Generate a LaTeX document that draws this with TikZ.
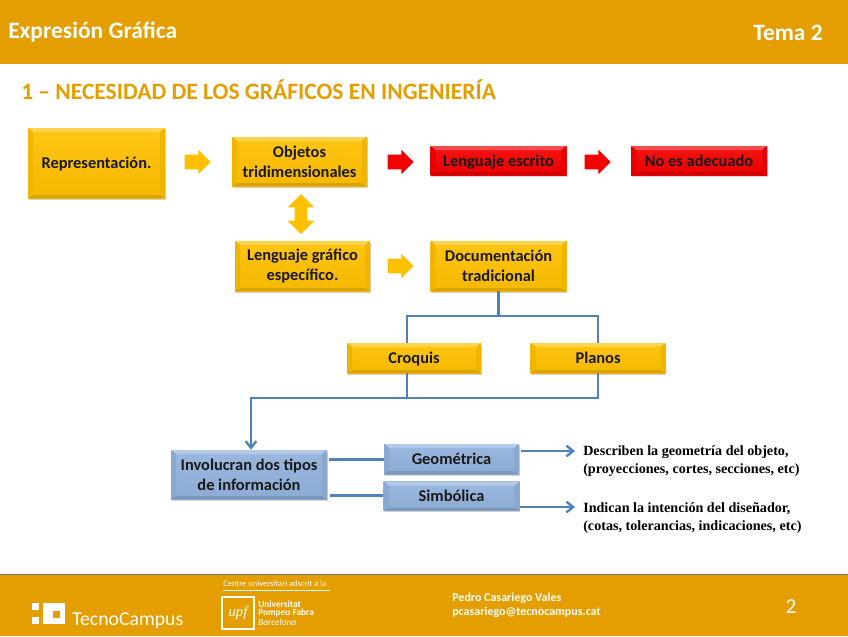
\documentclass[tikz,border=0pt]{standalone}
\usepackage{fontspec}
\usepackage{xcolor}
\setmainfont{Carlito}
\newfontfamily\serifbold{Liberation Serif}[BoldFont={Liberation Serif Bold}]
\usetikzlibrary{arrows.meta,positioning,shapes.arrows,shadows}
\definecolor{bandorange}{RGB}{228,158,0}
\definecolor{boxyellow}{RGB}{255,192,0}
\definecolor{boxred}{RGB}{245,0,0}
\definecolor{boxblue}{RGB}{146,178,220}
\definecolor{linkblue}{RGB}{79,129,189}
\tikzset{
  bevel/.style={rectangle,inner sep=0pt,align=center,font=\bfseries\fontsize{12.3}{15}\selectfont,text=black!90,
    top color=#1!92!white,bottom color=#1!96!black,drop shadow={opacity=0.35,shadow xshift=0.4pt,shadow yshift=-1.3pt},
    path picture={
      \fill[#1!70!white] (path picture bounding box.north west) -- (path picture bounding box.north east)
        -- ++(-3.75pt,-3pt) -- ([shift={(3.75pt,-3pt)}]path picture bounding box.north west) -- cycle;
      \fill[#1!85!black] (path picture bounding box.south west) -- (path picture bounding box.south east)
        -- ++(-3.75pt,2.25pt) -- ([shift={(3.75pt,2.25pt)}]path picture bounding box.south west) -- cycle;
      \fill[#1!94!black] (path picture bounding box.north west) -- ++(3.75pt,-3pt)
        -- ([shift={(3.75pt,2.25pt)}]path picture bounding box.south west) -- (path picture bounding box.south west) -- cycle;
      \fill[#1!94!black] (path picture bounding box.north east) -- ++(-3.75pt,-3pt)
        -- ([shift={(-3.75pt,2.25pt)}]path picture bounding box.south east) -- (path picture bounding box.south east) -- cycle;
    }},
  yellowbox/.style={bevel=boxyellow},
  redbox/.style={bevel=boxred},
  bluebox/.style={bevel=boxblue},
  oneline/.style={text height=11pt,text depth=2.5pt},
  blockarrow/.style={single arrow,fill=#1,inner xsep=0pt,inner ysep=5.25pt,minimum width=18pt,minimum height=19.5pt,
    single arrow head extend=3.75pt,single arrow head indent=0pt},
  link/.style={draw=linkblue,line width=1.8pt},
  linkarrow/.style={link,-{Straight Barb[length=5pt,width=8pt,line width=1.8pt]}},
  note/.style={anchor=west,inner sep=0pt,font=\serifbold\bfseries\fontsize{10.6}{10.6}\selectfont},
  bandtext/.style={inner sep=0pt,text=white,font=\bfseries\fontsize{17.6}{17.6}\selectfont},
  smalltext/.style={inner sep=0pt,anchor=west,text=white,font=\bfseries\fontsize{9}{9}\selectfont},
  logotext/.style={inner sep=0pt,anchor=west,text=white,font=\bfseries\fontsize{7}{7}\selectfont}
}
\begin{document}
\begin{tikzpicture}[x=0.75pt,y=-0.75pt]
\useasboundingbox (0,0) rectangle (848,636);
\fill[white] (0,0) rectangle (848,636);
% bands
\fill[bandorange] (0,0) rectangle (848,64);
\fill[bandorange] (0,575) rectangle (848,636);
\draw[black!55,line width=1pt] (0,574.5) -- (848,574.5);
\node[bandtext,anchor=west] (subject) at (8,32) {Expresión Gráfica};
\node[bandtext,anchor=east] (unit) at (823,33) {Tema 2};
\node[anchor=west,inner sep=0pt,text=bandorange,font=\bfseries\fontsize{17.6}{17.6}\selectfont] (title) at (21,90) {1 – NECESIDAD DE LOS GRÁFICOS EN INGENIERÍA};
% top row
\node[yellowbox,oneline,minimum width=102.75pt,minimum height=52.5pt] (repres) at (96.5,163) {Representación.};
\node[yellowbox,minimum width=101.25pt,minimum height=36.75pt] (objetos) at (299.5,161.5) {Objetos\\tridimensionales};
\node[redbox,oneline,minimum width=102pt,minimum height=21.75pt,right=47.25pt of objetos,yshift=0.75pt] (escrito) {Lenguaje escrito};
\node[redbox,oneline,minimum width=102pt,minimum height=21.75pt,right=48pt of escrito] (noadec) {No es adecuado};
\node[blockarrow=boxyellow] (arrowa) at (194,162) {};
\node[blockarrow=boxred] (arrowb) at (397,162) {};
\node[blockarrow=boxred] (arrowc) at (594,162) {};
% second row
\node[yellowbox,minimum width=101.25pt,minimum height=37.5pt] (lenguaje) at (302.5,266) {Lenguaje gráfico\\específico.};
\node[yellowbox,minimum width=102pt,minimum height=37.5pt,right=45pt of lenguaje] (docu) {Documentación\\tradicional};
\node[blockarrow=boxyellow] (arrowd) at (397,266) {};
\node[double arrow,fill=boxyellow,inner xsep=0pt,inner ysep=4.5pt,rotate=90,minimum width=19.5pt,minimum height=30pt,
  double arrow head extend=5.25pt,double arrow head indent=0pt] (arrowe) at (301,214) {};
% third row
\node[yellowbox,oneline,minimum width=100.5pt,minimum height=22.5pt] (croquis) at (414,358) {Croquis};
\node[yellowbox,oneline,minimum width=101.25pt,minimum height=22.5pt,right=36.75pt of croquis] (planos) {Planos};
% blue row
\node[bluebox,minimum width=117pt,minimum height=36.75pt] (involucran) at (249,474.5) {Involucran dos tipos\\de información};
\node[bluebox,oneline,minimum width=101.25pt,minimum height=22.5pt] (geometrica) at (451.5,459) {Geométrica};
\node[bluebox,oneline,minimum width=102pt,minimum height=21.75pt,below=5.25pt of geometrica] (simbolica) {Simbólica};
% notes
\node[note] (notegeoa) at (583,452.5) {Describen la geometría del objeto,};
\node[note] (notegeob) at (583,470.5) {(proyecciones, cortes, secciones, etc)};
\node[note] (notesima) at (583,508.5) {Indican la intención del diseñador,};
\node[note] (notesimb) at (583,527.5) {(cotas, tolerancias, indicaciones, etc)};
% connectors
\coordinate (branch) at (docu.south |- 0,316);
\coordinate (merge) at (407,398);
\coordinate (invtop) at ([shift={(1.5pt,11.25pt)}]involucran.east);
\coordinate (invlow) at ([shift={(2.25pt,-15.75pt)}]involucran.east);
\coordinate (geoout) at ([shift={(1.5pt,6pt)}]geometrica.east);
\coordinate (simout) at ([yshift=-8.25pt]simbolica.east);
\draw[link] (docu.south) -- (branch);
\draw[link] ([xshift=-5.25pt]croquis.north) |- (branch) -| (planos.north);
\draw[link] ([xshift=-5.25pt]croquis.south) -- (merge);
\draw[link] (planos.south) |- (merge);
\draw[linkarrow] (merge) -| ([xshift=1.5pt]involucran.north);
\draw[link] (invtop) -- (invtop -| geometrica.west);
\draw[link] (invlow) -- (invlow -| simbolica.west);
\draw[linkarrow] (geoout) -- ([xshift=-6pt]geoout -| notegeoa.west);
\draw[linkarrow] (simout) -- ([xshift=-6pt]simout -| notesima.west);
% footer
\fill[white] (32,603) rectangle (39,610);
\fill[white] (32,617) rectangle (39,624);
\fill[white] (43,603) rectangle (65,624);
\fill[bandorange] (53,611) rectangle (60,618);
\node[inner sep=0pt,anchor=west,text=white,font=\fontsize{14.8}{14.8}\selectfont] (tecno) at (72,621) {TecnoCampus};
\node[logotext,font=\fontsize{6.4}{6.4}\selectfont] (centre) at (223,584) {Centre universitari adscrit a la};
\draw[white,line width=0.4pt] (223,590.5) -- (330,590.5);
\node[draw=white,line width=0.8pt,minimum width=24pt,minimum height=24pt,inner sep=0pt,text=white,
  font=\serifbold\fontsize{11}{11}\selectfont\itshape] (upf) at (238,613) {upf};
\node[logotext] (uni) at (258,604) {Universitat};
\node[logotext] (pompeu) at (258,613) {Pompeu Fabra};
\node[logotext,font=\itshape\fontsize{7}{7}\selectfont] (barna) at (258,622) {Barcelona};
\node[smalltext] (author) at (452,598) {Pedro Casariego Vales};
\node[smalltext] (mail) at (452,612) {pcasariego@tecnocampus.cat};
\node[inner sep=0pt,text=white,font=\fontsize{16}{16}\selectfont] (page) at (791,607) {2};
\end{tikzpicture}
\end{document}
